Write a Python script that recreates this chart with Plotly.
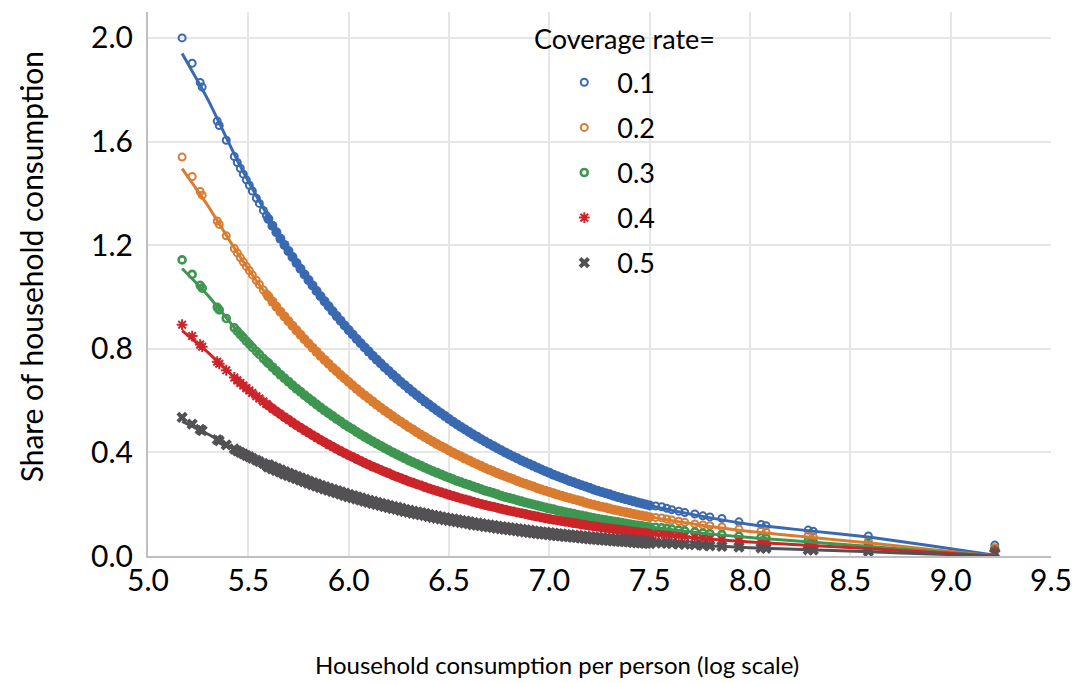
import plotly.graph_objects as go

# ---------------- data ----------------
coverage_labels = ["0.1", "0.2", "0.3", "0.4", "0.5"]

# log household consumption per person: sparse low end, dense middle, sparse high end
cons_low = [5.17, 5.22, 5.26, 5.27, 5.345, 5.355, 5.39, 5.43, 5.445, 5.46, 5.475, 5.49,
            5.505, 5.52, 5.54, 5.555, 5.575, 5.59]
cons_mid = [5.60, 5.62, 5.64, 5.66, 5.68, 5.70, 5.72, 5.74, 5.76, 5.78, 5.80, 5.82, 5.84, 5.86,
            5.88, 5.90, 5.92, 5.94, 5.96, 5.98, 6.00, 6.02, 6.04, 6.06, 6.08, 6.10, 6.12, 6.14,
            6.16, 6.18, 6.20, 6.22, 6.24, 6.26, 6.28, 6.30, 6.32, 6.34, 6.36, 6.38, 6.40, 6.42,
            6.44, 6.46, 6.48, 6.50, 6.52, 6.54, 6.56, 6.58, 6.60, 6.62, 6.64, 6.66, 6.68, 6.70,
            6.72, 6.74, 6.76, 6.78, 6.80, 6.82, 6.84, 6.86, 6.88, 6.90, 6.92, 6.94, 6.96, 6.98,
            7.00, 7.02, 7.04, 7.06, 7.08, 7.10, 7.12, 7.14, 7.16, 7.18, 7.20, 7.22, 7.24, 7.26,
            7.28, 7.30, 7.32, 7.34, 7.36, 7.38, 7.40, 7.42, 7.44, 7.46, 7.48, 7.50]
cons_high = [7.53, 7.56, 7.585, 7.61, 7.645, 7.675, 7.725, 7.765, 7.80, 7.86, 7.945, 8.055,
             8.08, 8.29, 8.315, 8.59, 9.22]

share_01_low = [2.000, 1.902, 1.828, 1.810, 1.679, 1.662, 1.605, 1.542, 1.519, 1.497, 1.474, 1.452,
                1.431, 1.409, 1.381, 1.361, 1.334, 1.314]
share_01_mid = [1.301, 1.275, 1.250, 1.225, 1.201, 1.177, 1.154, 1.131, 1.109, 1.087,
                1.065, 1.044, 1.023, 1.003, 0.983, 0.964, 0.945, 0.926, 0.908, 0.890,
                0.872, 0.855, 0.838, 0.821, 0.805, 0.789, 0.773, 0.758, 0.743, 0.728,
                0.714, 0.700, 0.686, 0.672, 0.659, 0.646, 0.633, 0.621, 0.608, 0.596,
                0.585, 0.573, 0.562, 0.551, 0.540, 0.529, 0.518, 0.508, 0.498, 0.488,
                0.479, 0.469, 0.460, 0.451, 0.442, 0.433, 0.425, 0.416, 0.408, 0.400,
                0.392, 0.384, 0.377, 0.369, 0.362, 0.355, 0.348, 0.341, 0.334, 0.327,
                0.321, 0.314, 0.308, 0.302, 0.296, 0.290, 0.285, 0.279, 0.273, 0.268,
                0.263, 0.257, 0.252, 0.247, 0.242, 0.238, 0.233, 0.228, 0.224, 0.219,
                0.215, 0.211, 0.207, 0.203, 0.199, 0.195]
share_01_high = [0.193, 0.190, 0.184, 0.179, 0.173, 0.168, 0.162, 0.155, 0.151, 0.145, 0.132,
                 0.122, 0.117, 0.100, 0.096, 0.077, 0.042]

share_02_low = [1.540, 1.465, 1.407, 1.393, 1.293, 1.280, 1.236, 1.187, 1.170, 1.152, 1.135, 1.118,
                1.102, 1.085, 1.064, 1.048, 1.027, 1.012]
share_02_mid = [1.002, 0.982, 0.962, 0.943, 0.925, 0.906, 0.889, 0.871, 0.854, 0.837,
                0.820, 0.804, 0.788, 0.772, 0.757, 0.742, 0.727, 0.713, 0.699, 0.685,
                0.672, 0.658, 0.645, 0.632, 0.620, 0.608, 0.596, 0.584, 0.572, 0.561,
                0.550, 0.539, 0.528, 0.518, 0.508, 0.497, 0.488, 0.478, 0.468, 0.459,
                0.450, 0.441, 0.432, 0.424, 0.416, 0.407, 0.399, 0.391, 0.384, 0.376,
                0.369, 0.361, 0.354, 0.347, 0.340, 0.333, 0.327, 0.320, 0.314, 0.308,
                0.302, 0.296, 0.290, 0.284, 0.279, 0.273, 0.268, 0.262, 0.257, 0.252,
                0.247, 0.242, 0.237, 0.233, 0.228, 0.224, 0.219, 0.215, 0.211, 0.206,
                0.202, 0.198, 0.194, 0.190, 0.187, 0.183, 0.179, 0.176, 0.172, 0.169,
                0.166, 0.162, 0.159, 0.156, 0.153, 0.150]
share_02_high = [0.149, 0.147, 0.143, 0.139, 0.134, 0.130, 0.124, 0.120, 0.117, 0.112, 0.104,
                 0.097, 0.093, 0.078, 0.074, 0.058, 0.032]

share_03_low = [1.143, 1.087, 1.045, 1.034, 0.960, 0.950, 0.917, 0.881, 0.868, 0.855, 0.843, 0.830,
                0.818, 0.805, 0.790, 0.778, 0.762, 0.751]
share_03_mid = [0.744, 0.729, 0.714, 0.700, 0.686, 0.673, 0.659, 0.646, 0.634, 0.621,
                0.609, 0.597, 0.585, 0.573, 0.562, 0.551, 0.540, 0.529, 0.519, 0.508,
                0.498, 0.489, 0.479, 0.469, 0.460, 0.451, 0.442, 0.433, 0.425, 0.416,
                0.408, 0.400, 0.392, 0.384, 0.377, 0.369, 0.362, 0.355, 0.348, 0.341,
                0.334, 0.327, 0.321, 0.315, 0.308, 0.302, 0.296, 0.290, 0.285, 0.279,
                0.274, 0.268, 0.263, 0.258, 0.252, 0.248, 0.243, 0.238, 0.233, 0.228,
                0.224, 0.220, 0.215, 0.211, 0.207, 0.203, 0.199, 0.195, 0.191, 0.187,
                0.183, 0.180, 0.176, 0.173, 0.169, 0.166, 0.163, 0.159, 0.156, 0.153,
                0.150, 0.147, 0.144, 0.141, 0.139, 0.136, 0.133, 0.131, 0.128, 0.125,
                0.123, 0.120, 0.118, 0.116, 0.113, 0.111]
share_03_high = [0.111, 0.109, 0.107, 0.104, 0.100, 0.097, 0.093, 0.089, 0.086, 0.082, 0.076,
                 0.072, 0.069, 0.057, 0.055, 0.043, 0.024]

share_04_low = [0.893, 0.849, 0.816, 0.808, 0.750, 0.742, 0.717, 0.689, 0.678, 0.668, 0.658, 0.648,
                0.639, 0.629, 0.617, 0.608, 0.596, 0.587]
share_04_mid = [0.581, 0.569, 0.558, 0.547, 0.536, 0.526, 0.515, 0.505, 0.495, 0.485,
                0.476, 0.466, 0.457, 0.448, 0.439, 0.430, 0.422, 0.413, 0.405, 0.397,
                0.389, 0.382, 0.374, 0.367, 0.359, 0.352, 0.345, 0.339, 0.332, 0.325,
                0.319, 0.312, 0.306, 0.300, 0.294, 0.288, 0.283, 0.277, 0.272, 0.266,
                0.261, 0.256, 0.251, 0.246, 0.241, 0.236, 0.232, 0.227, 0.222, 0.218,
                0.214, 0.209, 0.205, 0.201, 0.197, 0.193, 0.190, 0.186, 0.182, 0.179,
                0.175, 0.172, 0.168, 0.165, 0.162, 0.158, 0.155, 0.152, 0.149, 0.146,
                0.143, 0.140, 0.138, 0.135, 0.132, 0.130, 0.127, 0.125, 0.122, 0.120,
                0.117, 0.115, 0.113, 0.110, 0.108, 0.106, 0.104, 0.102, 0.100, 0.098,
                0.096, 0.094, 0.092, 0.090, 0.089, 0.087]
share_04_high = [0.086, 0.085, 0.083, 0.081, 0.078, 0.076, 0.072, 0.069, 0.067, 0.063, 0.059,
                 0.054, 0.052, 0.042, 0.041, 0.032, 0.018]

share_05_low = [0.535, 0.509, 0.489, 0.484, 0.449, 0.445, 0.429, 0.413, 0.406, 0.400, 0.394, 0.388,
                0.383, 0.377, 0.370, 0.364, 0.357, 0.352]
share_05_mid = [0.348, 0.341, 0.334, 0.328, 0.321, 0.315, 0.309, 0.303, 0.297, 0.291,
                0.285, 0.279, 0.274, 0.268, 0.263, 0.258, 0.253, 0.248, 0.243, 0.238,
                0.233, 0.229, 0.224, 0.220, 0.215, 0.211, 0.207, 0.203, 0.199, 0.195,
                0.191, 0.187, 0.184, 0.180, 0.176, 0.173, 0.169, 0.166, 0.163, 0.160,
                0.156, 0.153, 0.150, 0.147, 0.144, 0.141, 0.139, 0.136, 0.133, 0.131,
                0.128, 0.125, 0.123, 0.121, 0.118, 0.116, 0.114, 0.111, 0.109, 0.107,
                0.105, 0.103, 0.101, 0.099, 0.097, 0.095, 0.093, 0.091, 0.089, 0.088,
                0.086, 0.084, 0.082, 0.081, 0.079, 0.078, 0.076, 0.075, 0.073, 0.072,
                0.070, 0.069, 0.068, 0.066, 0.065, 0.064, 0.062, 0.061, 0.060, 0.059,
                0.058, 0.056, 0.055, 0.054, 0.053, 0.052]
share_05_high = [0.051, 0.050, 0.049, 0.048, 0.046, 0.045, 0.043, 0.041, 0.039, 0.037, 0.034,
                 0.031, 0.030, 0.024, 0.023, 0.018, 0.010]

# trendlines
trend_x = [5.17, 5.30, 5.45, 5.60, 5.80, 6.00, 6.25, 6.50, 6.75, 7.00, 7.25, 7.50, 7.75, 8.00,
           8.30, 8.60, 8.90, 9.22]
trend_01 = [1.94, 1.76, 1.52, 1.31, 1.07, 0.87, 0.68, 0.53, 0.41, 0.32, 0.25, 0.195, 0.155, 0.122,
            0.097, 0.072, 0.040, 0.003]
trend_02 = [1.495, 1.35, 1.165, 1.00, 0.82, 0.67, 0.525, 0.41, 0.32, 0.25, 0.195, 0.152, 0.12, 0.095,
            0.072, 0.050, 0.025, 0.0]
trend_03 = [1.11, 1.005, 0.864, 0.744, 0.609, 0.498, 0.388, 0.302, 0.235, 0.183, 0.143, 0.112, 0.089,
            0.071, 0.054, 0.037, 0.018, 0.0]
trend_04 = [0.87, 0.785, 0.675, 0.581, 0.476, 0.389, 0.303, 0.236, 0.184, 0.143, 0.112, 0.087, 0.068,
            0.054, 0.041, 0.028, 0.014, 0.0]
trend_05 = [0.52, 0.47, 0.404, 0.348, 0.285, 0.233, 0.182, 0.141, 0.110, 0.086, 0.067, 0.052, 0.041,
            0.032, 0.024, 0.016, 0.008, 0.0]

# ---------------- styling ----------------
colors = ["#396AB1", "#DA7C30", "#3E9651", "#CC2529", "#535154"]
symbols = ["circle-open", "circle-open", "circle-open", "asterisk-open", "x"]
sym_sizes = [7, 7, 7, 9, 10]
sym_lw = [2, 2, 2.6, 2, 0]
dense_symbols = ["circle", "circle", "circle", "circle", "x"]
dense_sizes = [10, 10, 10, 10, 12]

lows = [share_01_low, share_02_low, share_03_low, share_04_low, share_05_low]
mids = [share_01_mid, share_02_mid, share_03_mid, share_04_mid, share_05_mid]
highs = [share_01_high, share_02_high, share_03_high, share_04_high, share_05_high]
trends = [trend_01, trend_02, trend_03, trend_04, trend_05]

fig = go.Figure()

# dense middle of each cloud
for i in range(5):
    fig.add_trace(go.Scatter(
        x=cons_mid, y=mids[i], mode="markers", showlegend=False, legendgroup=coverage_labels[i],
        marker=dict(symbol=dense_symbols[i], size=dense_sizes[i], color=colors[i],
                    line=dict(width=0, color=colors[i]))))

# sparse ends (carry the legend)
for i in range(5):
    fig.add_trace(go.Scatter(
        x=cons_low + cons_high, y=lows[i] + highs[i], mode="markers",
        name=coverage_labels[i], legendgroup=coverage_labels[i],
        marker=dict(symbol=symbols[i], size=sym_sizes[i], color=colors[i],
                    line=dict(width=sym_lw[i], color=colors[i]))))

# trendlines
for i in range(5):
    fig.add_trace(go.Scatter(
        x=trend_x, y=trends[i], mode="lines", showlegend=False, legendgroup=coverage_labels[i],
        line=dict(color=colors[i], width=3, shape="spline", smoothing=0.6)))

axis_common = dict(showgrid=True, gridcolor="#e6e6e6", gridwidth=1.5, showline=True,
                   linecolor="#bfbfbf", linewidth=2, ticks="", zeroline=False,
                   tickformat=".1f", tickfont=dict(size=30, color="black"))

fig.update_layout(
    width=1084, height=683,
    margin=dict(l=148, r=27, t=12, b=127),
    paper_bgcolor="white", plot_bgcolor="white",
    font=dict(family="Lato, sans-serif", color="black"),
    xaxis=dict(range=[5, 9.5], tick0=5, dtick=0.5, ticklabelstandoff=-3, **axis_common),
    yaxis=dict(range=[0, 2.1], tick0=0, dtick=0.4, ticklabelstandoff=7, **axis_common),
    legend=dict(x=0.4466, xanchor="left", y=0.915, yanchor="top", font=dict(size=27),
                itemwidth=56, tracegroupgap=7, bgcolor="rgba(0,0,0,0)", borderwidth=0),
    annotations=[
        dict(text="Coverage rate=", xref="paper", yref="paper", x=0.4257, y=0.952,
             xanchor="left", yanchor="middle", showarrow=False, font=dict(size=27)),
        dict(text="Share of household consumption", xref="paper", yref="paper",
             x=(30 - 148) / 909, y=0.532, xanchor="center", yanchor="middle",
             textangle=-90, showarrow=False, font=dict(size=30)),
        dict(text="Household consumption per person (log scale)", xref="paper", yref="paper",
             x=0.453, y=-0.200, xanchor="center", yanchor="middle", showarrow=False,
             font=dict(size=24)),
    ],
)

fig.write_html("out.html")
